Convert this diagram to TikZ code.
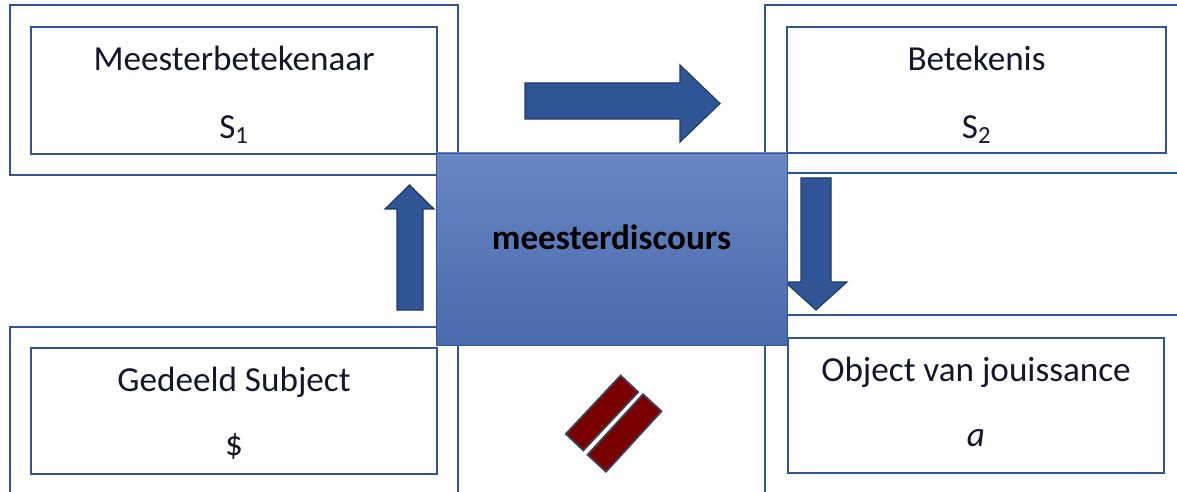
\documentclass[tikz,border=0pt]{standalone}
\usepackage{fontspec}
\setmainfont{Carlito}
\usetikzlibrary{calc}

\definecolor{boxblue}{HTML}{2F5597}
\definecolor{arrowfill}{HTML}{2F5597}
\definecolor{arrowedge}{HTML}{1F3864}
\definecolor{centtop}{HTML}{6886C2}
\definecolor{centbot}{HTML}{4A6AAE}
\definecolor{slashred}{HTML}{7A0000}
\definecolor{slashedge}{HTML}{3B3F58}
\definecolor{inktext}{HTML}{14162B}

\begin{document}
\begin{tikzpicture}[x=0.025cm, y=-0.025cm,
  outerbox/.style={draw=boxblue, line width=1.4pt},
  innerbox/.style={draw=boxblue, line width=1.4pt, inner sep=0pt},
  lbl/.style={text=inktext, font=\fontsize{25}{30}\selectfont, inner sep=0pt, anchor=base},
  blockarrow/.style={fill=arrowfill, draw=arrowedge, line width=0.8pt, line join=miter},
  slashbar/.style={fill=slashred, draw=slashedge, line width=1.3pt, inner sep=0pt}]

  % Parameters
  \def\u{0.025cm}     % one pixel of the reference
  \def\titleoff{44}   % title baseline below top of inner box
  \def\symoff{112}    % symbol baseline below top of inner box

  % Page
  \clip (0,0) rectangle (1177,492);
  \fill[white] (0,0) rectangle (1177,492);

  % Outer frames (run off the page at the edges)
  \draw[outerbox] (10,5) rectangle (458,175);
  \draw[outerbox] (765,5) rectangle (1200,173);
  \draw[outerbox] (10,327) rectangle (458,520);
  \draw[outerbox] (765,315) rectangle (1200,520);

  % Inner boxes
  \node[innerbox, minimum width=406*\u, minimum height=127*\u] (s1box) at (234,90.5) {};
  \node[innerbox, minimum width=379*\u, minimum height=126*\u] (s2box) at (976.5,90) {};
  \node[innerbox, minimum width=406*\u, minimum height=126*\u] (subjbox) at (234,411) {};
  \node[innerbox, minimum width=376*\u, minimum height=135*\u] (objbox) at (976,405.5) {};

  % Labels
  \node[lbl] (s1title) at ($(s1box.north)+(0,\titleoff)$) {Meesterbetekenaar};
  \node[lbl] (s1sym)   at ($(s1box.north)+(0,\symoff)$) {S\textsubscript{1}};
  \node[lbl] (s2title) at ($(s2box.north)+(0,\titleoff)$) {Betekenis};
  \node[lbl] (s2sym)   at ($(s2box.north)+(0,\symoff)$) {S\textsubscript{2}};
  \node[lbl] (subjtitle) at ($(subjbox.north)+(0,\titleoff)$) {Gedeeld Subject};
  \node[lbl] (subjsym)   at ($(subjbox.north)+(0,\symoff-4)$) {\$};
  \node[lbl] (objtitle) at ($(objbox.north)+(0,\titleoff)$) {Object van jouissance};
  \node[lbl] (objsym)   at ($(objbox.north)+(0,\symoff-3)$) {\textit{a}};

  % Block arrows
  % S1 -> S2 (right)
  \draw[blockarrow] (525,83) -- (680,83) -- (680,65) -- (720,103.5)
    -- (680,142) -- (680,119) -- (525,119) -- cycle;
  % $ -> S1 (up)
  \draw[blockarrow] (397,310) -- (397,209) -- (385,209) -- (409.5,185)
    -- (434,209) -- (423,209) -- (423,310) -- cycle;
  % S2 -> a (down)
  \draw[blockarrow] (801,178) -- (831,178) -- (831,282) -- (847,282)
    -- (816,310) -- (785,282) -- (801,282) -- cycle;

  % Centre block
  \node[draw=boxblue, line width=0.6pt, top color=centtop, bottom color=centbot,
        minimum width=351*\u, minimum height=192*\u, inner sep=0pt] (discours) at (611.5,249) {};
  \node[text=black, font=\fontsize{25}{30}\selectfont\bfseries, inner sep=0pt, anchor=base]
    (discourslbl) at (611.5,249) {meesterdiscours};

  % Barrier between $ and a
  \node[slashbar, rotate=46.8, minimum width=80*\u, minimum height=24*\u] (bar1) at (602,413) {};
  \node[slashbar, rotate=47.5, minimum width=82*\u, minimum height=25*\u] (bar2) at (624.5,433) {};

\end{tikzpicture}
\end{document}
